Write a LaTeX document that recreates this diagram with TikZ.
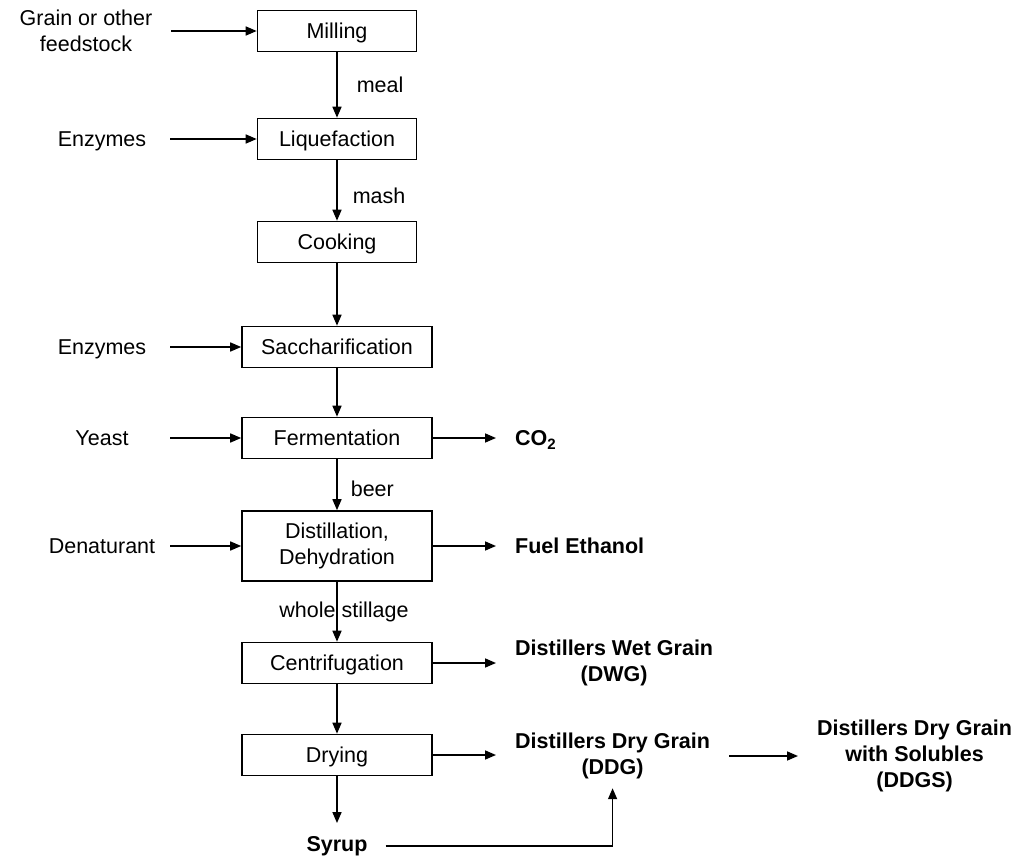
\documentclass[tikz,border=0pt]{standalone}
\usepackage{fontspec}
\setmainfont{Liberation Sans}
\usetikzlibrary{arrows.meta, positioning}

\begin{document}
\begin{tikzpicture}[
        x=1pt, y=-1pt,
        every node/.style={font=\fontsize{21.5}{26}\selectfont, align=center},
        oneline/.style={text height=15.5pt, text depth=0pt},
        stage/.style={draw, line width=1.6pt, inner sep=0pt, minimum width=190pt, minimum height=41pt},
        small/.style={stage, minimum width=159pt},
        feed/.style={inner sep=0pt, minimum width=136pt},
        product/.style={font=\fontsize{21.5}{26}\selectfont\bfseries, anchor=west, inner xsep=19pt, inner ysep=9pt},
        flow/.style={inner sep=0pt},
        arrow/.style={-{Triangle[length=11pt, width=9pt]}, line width=1.6pt}
        ]
        \useasboundingbox (0,0) rectangle (1021,856);

        % Process column
        \node (milling) [small, oneline] at (337,31) {Milling};
        \node (liquefaction) [small, oneline] at (337,139) {Liquefaction};
        \node (cooking) [small, oneline] at (337,242) {Cooking};
        \node (sacch) [stage, oneline] at (337,347) {Saccharification};
        \node (ferment) [stage, oneline] at (337,438) {Fermentation};
        \node (distill) [stage, minimum height=70pt] at (337,546) {Distillation,\\ Dehydration};
        \node (centri) [stage, oneline] at (337,663) {Centrifugation};
        \node (drying) [stage, oneline] at (337,755) {Drying};

        % Inputs
        \node (grain) [feed, minimum width=170pt] at (86,31) {Grain or other\\ feedstock};
        \node (enzA) [feed, oneline] at (102,139) {Enzymes};
        \node (enzB) [feed, oneline] at (102,347) {Enzymes};
        \node (yeast) [feed, oneline] at (102,438) {Yeast};
        \node (denat) [feed, oneline] at (102,546) {Denaturant};

        % Products
        \node (co2) [product, oneline] at (496,438) {CO\textsubscript{2}};
        \node (ethanol) [product, oneline] at (496,546) {Fuel Ethanol};
        \node (dwg) [product] at (496,663) {Distillers Wet Grain\\ (DWG)};
        \node (ddg) [product] at (496,756) {Distillers Dry Grain\\ (DDG)};
        \node (ddgs) [product] at (798,756) {Distillers Dry Grain\\ with Solubles\\ (DDGS)};
        \node (syrup) [font=\fontsize{21.5}{26}\selectfont\bfseries, inner xsep=18pt, inner ysep=13pt] at (337,846) {Syrup};

        % Arrows
        \draw [arrow] (milling) -- node[flow, right=19pt] {meal} (liquefaction);
        \draw [arrow] (liquefaction) -- node[flow, right=15pt, yshift=-5pt] {mash} (cooking);
        \draw [arrow] (cooking) -- (sacch);
        \draw [arrow] (sacch) -- (ferment);
        \draw [arrow] (ferment) -- node[flow, right=13pt, yshift=-4pt] {beer} (distill);
        \draw [arrow] (distill) -- node[flow, xshift=7pt] {whole stillage} (centri);
        \draw [arrow] (centri) -- (drying);
        \draw [arrow] (drying) -- (syrup);

        \draw [arrow] (grain) -- (milling);
        \draw [arrow] (enzA) -- (liquefaction);
        \draw [arrow] (enzB) -- (sacch);
        \draw [arrow] (yeast) -- (ferment);
        \draw [arrow] (denat) -- (distill);

        \draw [arrow] (ferment) -- (co2);
        \draw [arrow] (distill) -- (ethanol);
        \draw [arrow] (centri) -- (dwg);
        \draw [arrow] (drying) -- (ddg.west |- drying);
        \draw [arrow] (ddg) -- (ddgs);
        \draw [arrow] (syrup.east) -| (ddg.south);
    \end{tikzpicture}
\end{document}
